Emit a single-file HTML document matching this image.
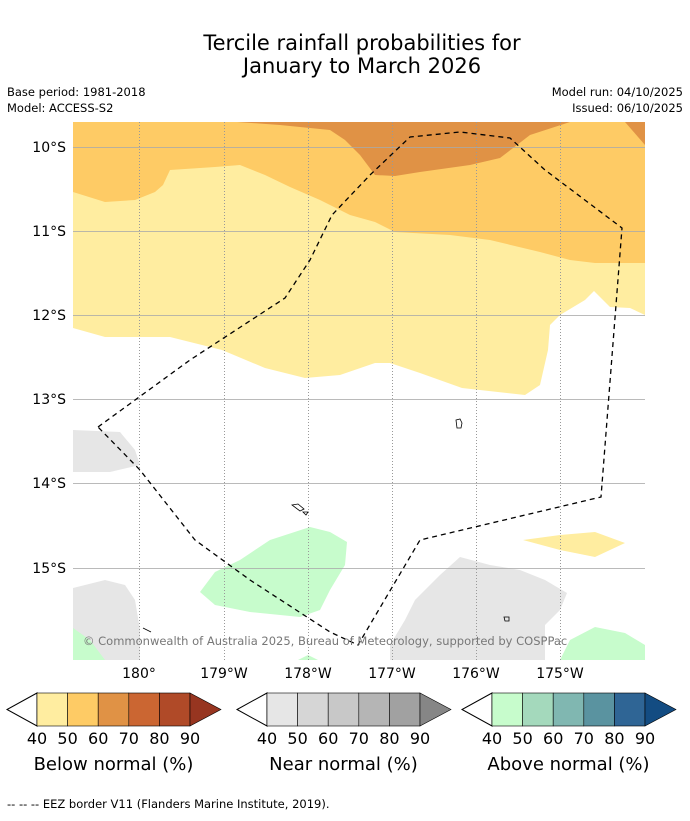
<!DOCTYPE html>
<html><head><meta charset="utf-8"><style>
body{margin:0;background:#fff;width:690px;height:816px;overflow:hidden;font-family:"Liberation Sans","DejaVu Sans",sans-serif}
svg text{font-family:"DejaVu Sans","Liberation Sans",sans-serif}
</style></head><body>
<svg width="690" height="816">
<text x="362" y="50" font-size="21" text-anchor="middle">Tercile rainfall probabilities for</text>
<text x="362" y="73" font-size="21" text-anchor="middle">January to March 2026</text>
<text x="7" y="96" font-size="11.5">Base period: 1981-2018</text>
<text x="7" y="112" font-size="11.5">Model: ACCESS-S2</text>
<text x="683" y="96" font-size="11.5" text-anchor="end">Model run: 04/10/2025</text>
<text x="683" y="112" font-size="11.5" text-anchor="end">Issued: 06/10/2025</text>
<defs><clipPath id="mc"><rect x="73" y="122" width="572" height="538"/></clipPath></defs>
<g clip-path="url(#mc)">
<rect x="73" y="122" width="572" height="538" fill="#fff"/>
<polygon fill="#ffeda0" points="73,328 105,337 170,337 222,350 265,368 305,378 340,375 375,363 390,363 420,373 462,388 525,395 540,385 548,350 550,325 560,315 585,300 594,291 610,307 630,308 645,315 645,122 73,122"/>
<polygon fill="#fecb65" points="73,192 105,202 135,200 155,192 163,185 170,170 215,167 240,165 265,175 290,187 320,200 350,215 375,222 395,232 450,235 490,240 540,252 570,260 595,263 645,263 645,122 73,122"/>
<polygon fill="#e09245" points="237,122 280,125 330,130 345,140 360,155 375,175 395,176 420,172 470,165 500,158 530,135 570,122"/>
<polygon fill="#e09245" points="625,122 645,145 645,122"/>
<polygon fill="#e6e6e6" points="73,430 120,432 135,450 140,465 110,472 73,472"/>
<polygon fill="#e6e6e6" points="73,588 105,580 125,585 135,600 140,630 140,660 73,660"/>
<polygon fill="#e6e6e6" points="390,645 405,620 415,600 440,575 460,557 490,565 520,570 545,580 567,593 560,610 545,625 545,660 390,660"/>
<polygon fill="#c7fccc" points="200,592 215,572 240,560 270,540 310,527 330,532 347,542 345,565 330,590 320,610 300,617 250,612 215,605"/>
<polygon fill="#c7fccc" points="73,628 90,640 105,660 73,660"/>
<polygon fill="#c7fccc" points="560,660 570,640 595,627 625,633 645,645 645,660"/>
<polygon fill="#c7fccc" points="298,660 308,655 318,660"/>
<polygon fill="#ffeda0" points="523,540 560,535 595,532 625,543 595,557 560,550"/>
<g stroke="#999" stroke-width="1" stroke-dasharray="1,2">
<line x1="139.5" y1="122" x2="139.5" y2="660"/><line x1="224.5" y1="122" x2="224.5" y2="660"/><line x1="308.5" y1="122" x2="308.5" y2="660"/><line x1="392.5" y1="122" x2="392.5" y2="660"/><line x1="476.5" y1="122" x2="476.5" y2="660"/><line x1="560.5" y1="122" x2="560.5" y2="660"/>
</g>
<g stroke="#aaa" stroke-width="1" opacity="0.8">
<line x1="73" y1="147.5" x2="645" y2="147.5"/><line x1="73" y1="231.5" x2="645" y2="231.5"/><line x1="73" y1="315.5" x2="645" y2="315.5"/><line x1="73" y1="399.5" x2="645" y2="399.5"/><line x1="73" y1="483.5" x2="645" y2="483.5"/><line x1="73" y1="568.5" x2="645" y2="568.5"/>
</g>
<polyline fill="none" stroke="#000" stroke-width="1.3" stroke-dasharray="5,4" points="98,427 190,360 285,298 310,260 332,215 370,175 410,137 460,132 510,138 545,170 622,228 601,497 420,540 358,645 330,632 250,580 195,540 140,470 98,427"/>
<g fill="none" stroke="#000" stroke-width="0.8">
<path d="M456,420 l4,-1 2,4 -1,5 -4,0z"/><path d="M292,505 l6,-1 6,5 -4,2z"/><path d="M303,512 l5,0 -2,3z"/><path d="M504,617 l5,0 0,4 -4,0z"/><path d="M143,628 l8,4"/>
</g>
<text x="83" y="645" font-size="11.5" fill="#777">© Commonwealth of Australia 2025, Bureau of Meteorology, supported by COSPPac</text>
</g>
<g font-size="14" text-anchor="end">
<text x="66" y="152">10°S</text><text x="66" y="236">11°S</text><text x="66" y="320">12°S</text><text x="66" y="404">13°S</text><text x="66" y="488">14°S</text><text x="66" y="573">15°S</text>
</g>
<g font-size="14" text-anchor="middle">
<text x="139" y="678">180°</text><text x="224" y="678">179°W</text><text x="308" y="678">178°W</text><text x="392" y="678">177°W</text><text x="476" y="678">176°W</text><text x="560" y="678">175°W</text>
</g>
<g id="cbars"></g>
<text x="7" y="808" font-size="11.5">--  --  -- EEZ border V11 (Flanders Marine Institute, 2019).</text>
</svg>
<script>
const ticks=["40","50","60","70","80","90"];
const titles=["Below normal (%)","Near normal (%)","Above normal (%)"];
const palettes=[["#ffeda0","#fecb65","#e09245","#cb6632","#b04a28","#973520"],["#e6e6e6","#d6d6d6","#c8c8c8","#b5b5b5","#a1a1a1","#868686"],["#c7fccc","#a4d9bc","#80b7b1","#5a93a0","#2f6595","#134c82"]];
const starts=[7,237,462];
const ns="http://www.w3.org/2000/svg";
const g=document.getElementById('cbars');
function mk(t,a){const e=document.createElementNS(ns,t);for(const k in a)e.setAttribute(k,a[k]);g.appendChild(e);return e;}
const y0=693,h=33,bw=30.6;
starts.forEach((x0,i)=>{
  const bx=x0+30;
  let e=mk('polygon',{points:`${bx},${y0} ${x0},${y0+h/2} ${bx},${y0+h}`,fill:'#fff',stroke:'#000','stroke-width':1});
  
  
  for(let j=0;j<5;j++){
    e=mk('rect',{x:bx+j*bw,y:y0,width:bw,height:h,fill:palettes[i][j],stroke:'#000','stroke-width':0.6});
    
    
  }
  const ex=bx+5*bw;
  e=mk('polygon',{points:`${ex},${y0} ${ex+31},${y0+h/2} ${ex},${y0+h}`,fill:palettes[i][5],stroke:'#000','stroke-width':0.6});
  
  
  ticks.forEach((t,j)=>{
    e=mk('text',{x:bx+j*bw,y:744,'font-size':16,'text-anchor':'middle'});
    e.textContent=t;
    
    
  });
  e=mk('text',{x:bx+2.5*bw,y:770,'font-size':18,'text-anchor':'middle'});
  e.textContent=titles[i];
  
  
});
</script>
</body></html>
